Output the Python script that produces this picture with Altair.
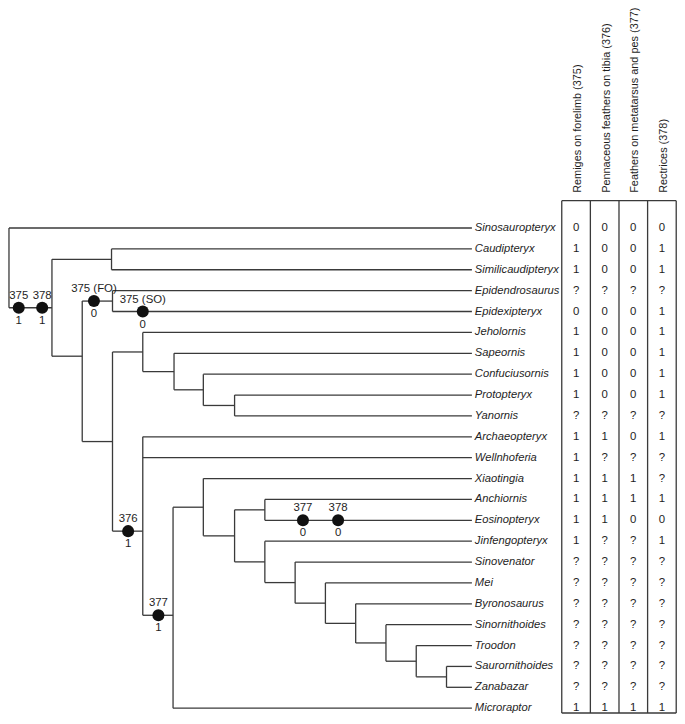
import altair as alt
import pandas as pd

# ---------------- data ----------------
taxa = ["Sinosauropteryx", "Caudipteryx", "Similicaudipteryx", "Epidendrosaurus",
        "Epidexipteryx", "Jeholornis", "Sapeornis", "Confuciusornis", "Protopteryx",
        "Yanornis", "Archaeopteryx", "Wellnhoferia", "Xiaotingia", "Anchiornis",
        "Eosinopteryx", "Jinfengopteryx", "Sinovenator", "Mei", "Byronosaurus",
        "Sinornithoides", "Troodon", "Saurornithoides", "Zanabazar", "Microraptor"]

tip_parent = ["root", "n_caud", "n_caud", "n_epi", "n_epi", "n_av", "n_sap", "n_conf",
              "n_proto", "n_proto", "n_par", "n_par", "n_xiao", "n_anch", "n_anch",
              "n_tr1", "n_tr2", "n_tr3", "n_tr4", "n_tr5", "n_tr6", "n_tr7", "n_tr7",
              "n_deino"]

characters = ["Remiges on forelimb (375)", "Pennaceous feathers on tibia (376)",
              "Feathers on metatarsus and pes (377)", "Rectrices (378)"]

c375 = ["0", "1", "1", "?", "0", "1", "1", "1", "1", "?", "1", "1", "1", "1", "1", "1",
        "?", "?", "?", "?", "?", "?", "?", "1"]
c376 = ["0", "0", "0", "?", "0", "0", "0", "0", "0", "?", "1", "?", "1", "1", "1", "?",
        "?", "?", "?", "?", "?", "?", "?", "1"]
c377 = ["0", "0", "0", "?", "0", "0", "0", "0", "0", "?", "0", "?", "1", "1", "0", "?",
        "?", "?", "?", "?", "?", "?", "?", "1"]
c378 = ["0", "1", "1", "?", "1", "1", "1", "1", "1", "?", "1", "?", "?", "1", "0", "1",
        "?", "?", "?", "?", "?", "?", "?", "1"]

# internal nodes: id, parent, depth (horizontal position)
node_id = ["root", "n1", "n_caud", "n2", "n_epi", "n3", "n_av", "n_sap", "n_conf",
           "n_proto", "n_par", "n_deino", "n_xiao", "n_x2", "n_anch", "n_tr1", "n_tr2",
           "n_tr3", "n_tr4", "n_tr5", "n_tr6", "n_tr7"]
node_parent = [None, "root", "n1", "n1", "n2", "n2", "n3", "n_av", "n_sap", "n_conf",
               "n3", "n_par", "n_deino", "n_xiao", "n_x2", "n_x2", "n_tr1", "n_tr2",
               "n_tr3", "n_tr4", "n_tr5", "n_tr6"]
node_depth = [1, 45, 106, 76, 107, 107, 138, 170, 200, 232, 138, 169, 200, 232, 263,
              263, 294, 325, 356, 387, 418, 449]
tip_depth = 475
# nodes whose stem does not join at the middle of their span (row units)
join_row = {"n2": 6.14, "n_par": 14.52, "n_deino": 18.55}

# character changes on branches: branch (node or taxon), depth, character, state
chg_branch = ["n1", "n1", "n_epi", "Epidexipteryx", "n_par", "n_deino",
              "Eosinopteryx", "Eosinopteryx"]
chg_depth = [11, 35, 88, 138, 123, 154, 302, 338]
chg_char = ["375", "378", "375 (FO)", "375 (SO)", "376", "377", "377", "378"]
chg_state = ["1", "1", "0", "0", "1", "1", "0", "0"]

# ---------------- layout helpers ----------------
ROW_REF0, ROW_STEP = 226.0, 21.35          # reference pixel of first row, row pitch
def ref_to_row(v):
    return (v - ROW_REF0) / ROW_STEP

pos = {}   # id -> (x, y)
depth = dict(zip(node_id, node_depth))
parent = dict(zip(node_id, node_parent))
for i, t in enumerate(taxa):
    pos[t] = (tip_depth, float(i))
    parent[t] = tip_parent[i]
children = {}
for k, p in parent.items():
    if p is not None:
        children.setdefault(p, []).append(k)

def ypos(n):
    if n in pos:
        return pos[n][1]
    ys = [ypos(c) for c in children[n]]
    y = join_row.get(n, (min(ys) + max(ys)) / 2)
    pos[n] = (depth[n], y)
    return y

for n in node_id:
    ypos(n)

segs = []
for n, p in parent.items():
    if p is None:
        continue
    x, y = pos[n]
    segs.append(dict(x=pos[p][0], x2=x, y=y, y2=y))
for n in node_id:
    ys_ = [pos[c][1] for c in children[n]]
    segs.append(dict(x=pos[n][0], x2=pos[n][0], y=min(ys_), y2=max(ys_)))
seg_df = pd.DataFrame(segs)

tips_df = pd.DataFrame({"taxon": taxa, "x": tip_depth + 3, "y": list(range(len(taxa)))})

chg_y = [pos[b][1] for b in chg_branch]
dot_df = pd.DataFrame({"x": chg_depth, "y": chg_y})
lab_df = pd.DataFrame({"x": chg_depth, "y": chg_y, "lab": chg_char})
st_df = pd.DataFrame({"x": chg_depth, "y": chg_y, "st": chg_state})

# matrix
ncol = len(characters)
M_LEFT, M_W = 567.0, 29.3
col_center = [M_LEFT + M_W * (i + 0.5) for i in range(ncol)]
cells = []
for j, col in enumerate([c375, c376, c377, c378]):
    for i, v in enumerate(col):
        cells.append(dict(x=col_center[j], y=i, v=v))
cell_df = pd.DataFrame(cells)
top_row, bot_row = ref_to_row(198), ref_to_row(722)
grid = [dict(x=M_LEFT + M_W * i, x2=M_LEFT + M_W * i, y=top_row, y2=bot_row)
        for i in range(ncol + 1)]
grid += [dict(x=M_LEFT, x2=M_LEFT + M_W * ncol, y=top_row, y2=top_row),
         dict(x=M_LEFT, x2=M_LEFT + M_W * ncol, y=bot_row, y2=bot_row)]
grid_df = pd.DataFrame(grid)
head_df = pd.DataFrame({"x": [c + 2 for c in col_center], "y": ref_to_row(190),
                        "label": characters})

# ---------------- chart ----------------
xs = alt.Scale(domain=[0, 685], nice=False, zero=False)
ys = alt.Scale(domain=[ref_to_row(1), ref_to_row(723)], nice=False, zero=False, reverse=True)
X = lambda f="x": alt.X(f"{f}:Q", scale=xs, axis=None)
Y = lambda f="y": alt.Y(f"{f}:Q", scale=ys, axis=None)
FONT = "Liberation Sans"
LINE = "#3a3a3a"
TXT = "#1e1e1e"

branches = alt.Chart(seg_df).mark_rule(strokeWidth=1.3, color=LINE).encode(
    x=X(), x2="x2:Q", y=Y(), y2="y2:Q")
tips = alt.Chart(tips_df).mark_text(align="left", baseline="middle", font=FONT,
                                    fontStyle="italic", fontSize=11.2, fill=TXT).encode(
    x=X(), y=Y(), text="taxon:N")
dots = alt.Chart(dot_df).mark_circle(opacity=1, size=145, fill="#111111").encode(
    x=X(), y=Y())
dot_char = alt.Chart(lab_df).mark_text(baseline="middle", font=FONT, fontSize=11.4,
                                       dy=-12, fill=TXT).encode(
    x=X(), y=Y(), text="lab:N")
dot_state = alt.Chart(st_df).mark_text(baseline="middle", font=FONT, fontSize=11.4,
                                       dy=13, fill=TXT).encode(
    x=X(), y=Y(), text="st:N")
gridlines = alt.Chart(grid_df).mark_rule(strokeWidth=1.3, color=LINE).encode(
    x=X(), x2="x2:Q", y=Y(), y2="y2:Q")
cell_txt = alt.Chart(cell_df).mark_text(baseline="middle", font=FONT,
                                        fontSize=11.4, fill=TXT).encode(
    x=X(), y=Y(), text="v:N")
headers = alt.Chart(head_df).mark_text(angle=270, align="left", baseline="middle",
                                       font=FONT, fontSize=10.9, fill=TXT).encode(
    x=X(), y=Y(), text="label:N")

chart = alt.layer(branches, gridlines, tips, dots, dot_char, dot_state, cell_txt,
                  headers).properties(
    width=669, height=706, padding=0, autosize="none", background="white"
).configure_view(stroke=None)

chart.save("out.html", embed_options={"renderer": "svg", "actions": False})
